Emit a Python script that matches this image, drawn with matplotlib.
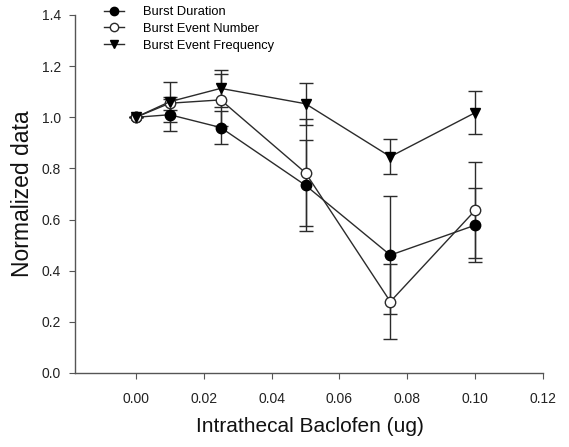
import matplotlib
matplotlib.use("Agg")
import matplotlib.pyplot as plt
from matplotlib.lines import Line2D

plt.rcParams['font.family'] = ['Liberation Sans', 'DejaVu Sans']

x = [0.0, 0.01, 0.025, 0.05, 0.075, 0.10]
dur = [1.0, 1.01, 0.96, 0.734, 0.461, 0.578]
dur_err = [0.0, 0.063, 0.063, 0.178, 0.231, 0.144]
num = [1.0, 1.055, 1.068, 0.783, 0.279, 0.636]
num_err = [0.0, 0.025, 0.103, 0.21, 0.146, 0.188]
freq = [1.0, 1.061, 1.113, 1.053, 0.846, 1.018]
freq_err = [0.0, 0.078, 0.071, 0.082, 0.068, 0.085]
labels = ['Burst Duration', 'Burst Event Number', 'Burst Event Frequency']

xticks = [0.00, 0.02, 0.04, 0.06, 0.08, 0.10, 0.12]
yticks = [0.0, 0.2, 0.4, 0.6, 0.8, 1.0, 1.2, 1.4]

W, H = 569, 447
fig = plt.figure(figsize=(W/100, H/100), dpi=100)
L, R, T, B = 75, 543, 15, 373
ax = fig.add_axes([L/W, 1-B/H, (R-L)/W, (B-T)/H])

lc = '#2b2b2b'
common = dict(color=lc, ecolor=lc, elinewidth=1.0, capsize=5, capthick=1.0, lw=1.0)
ax.errorbar(x, dur, yerr=dur_err, fmt='-o', mfc='black', mec='black', ms=7.5, **common)
ax.errorbar(x, num, yerr=num_err, fmt='-o', mfc='white', mec=lc, ms=7.5, **common)
ax.errorbar(x, freq, yerr=freq_err, fmt='-v', mfc='black', mec='black', ms=7, **common)

ax.set_xlim(-0.01794, 0.12)
ax.set_ylim(0.0, 1.4)
ax.set_xticks(xticks)
ax.set_xticklabels([f'{v:.2f}' for v in xticks])
ax.set_yticks(yticks)
ax.set_yticklabels([f'{v:.1f}' for v in yticks])
ax.spines['top'].set_visible(False)
ax.spines['right'].set_visible(False)
for s in ['left', 'bottom']:
    ax.spines[s].set_color('#555555')
    ax.spines[s].set_linewidth(1.0)
ax.tick_params(direction='out', length=4, color='#555555', labelsize=10, labelcolor='#222222')
ax.tick_params(axis='x', pad=10)
ax.tick_params(axis='y', pad=6)

fig.text(309.5/W, 1-427/H, 'Intrathecal Baclofen (ug)', fontsize=15, color='#111111',
         ha='center', va='center')
fig.text(23/W, 1-193.5/H, 'Normalized data', fontsize=16.5, color='#111111',
         ha='center', va='center', rotation=90)

handles = [
    Line2D([], [], color=lc, lw=1.0, marker='o', mfc='black', mec='black', ms=6),
    Line2D([], [], color=lc, lw=1.0, marker='o', mfc='white', mec=lc, ms=6),
    Line2D([], [], color=lc, lw=1.0, marker='v', mfc='black', mec='black', ms=6),
]
fig.legend(handles, labels, loc='upper left', bbox_to_anchor=(104/W, 1-6/H),
           frameon=False, fontsize=9.3, handlelength=1.55, labelspacing=0.38,
           borderpad=0, handletextpad=1.5, borderaxespad=0)

fig.savefig('out.png', dpi=100)
